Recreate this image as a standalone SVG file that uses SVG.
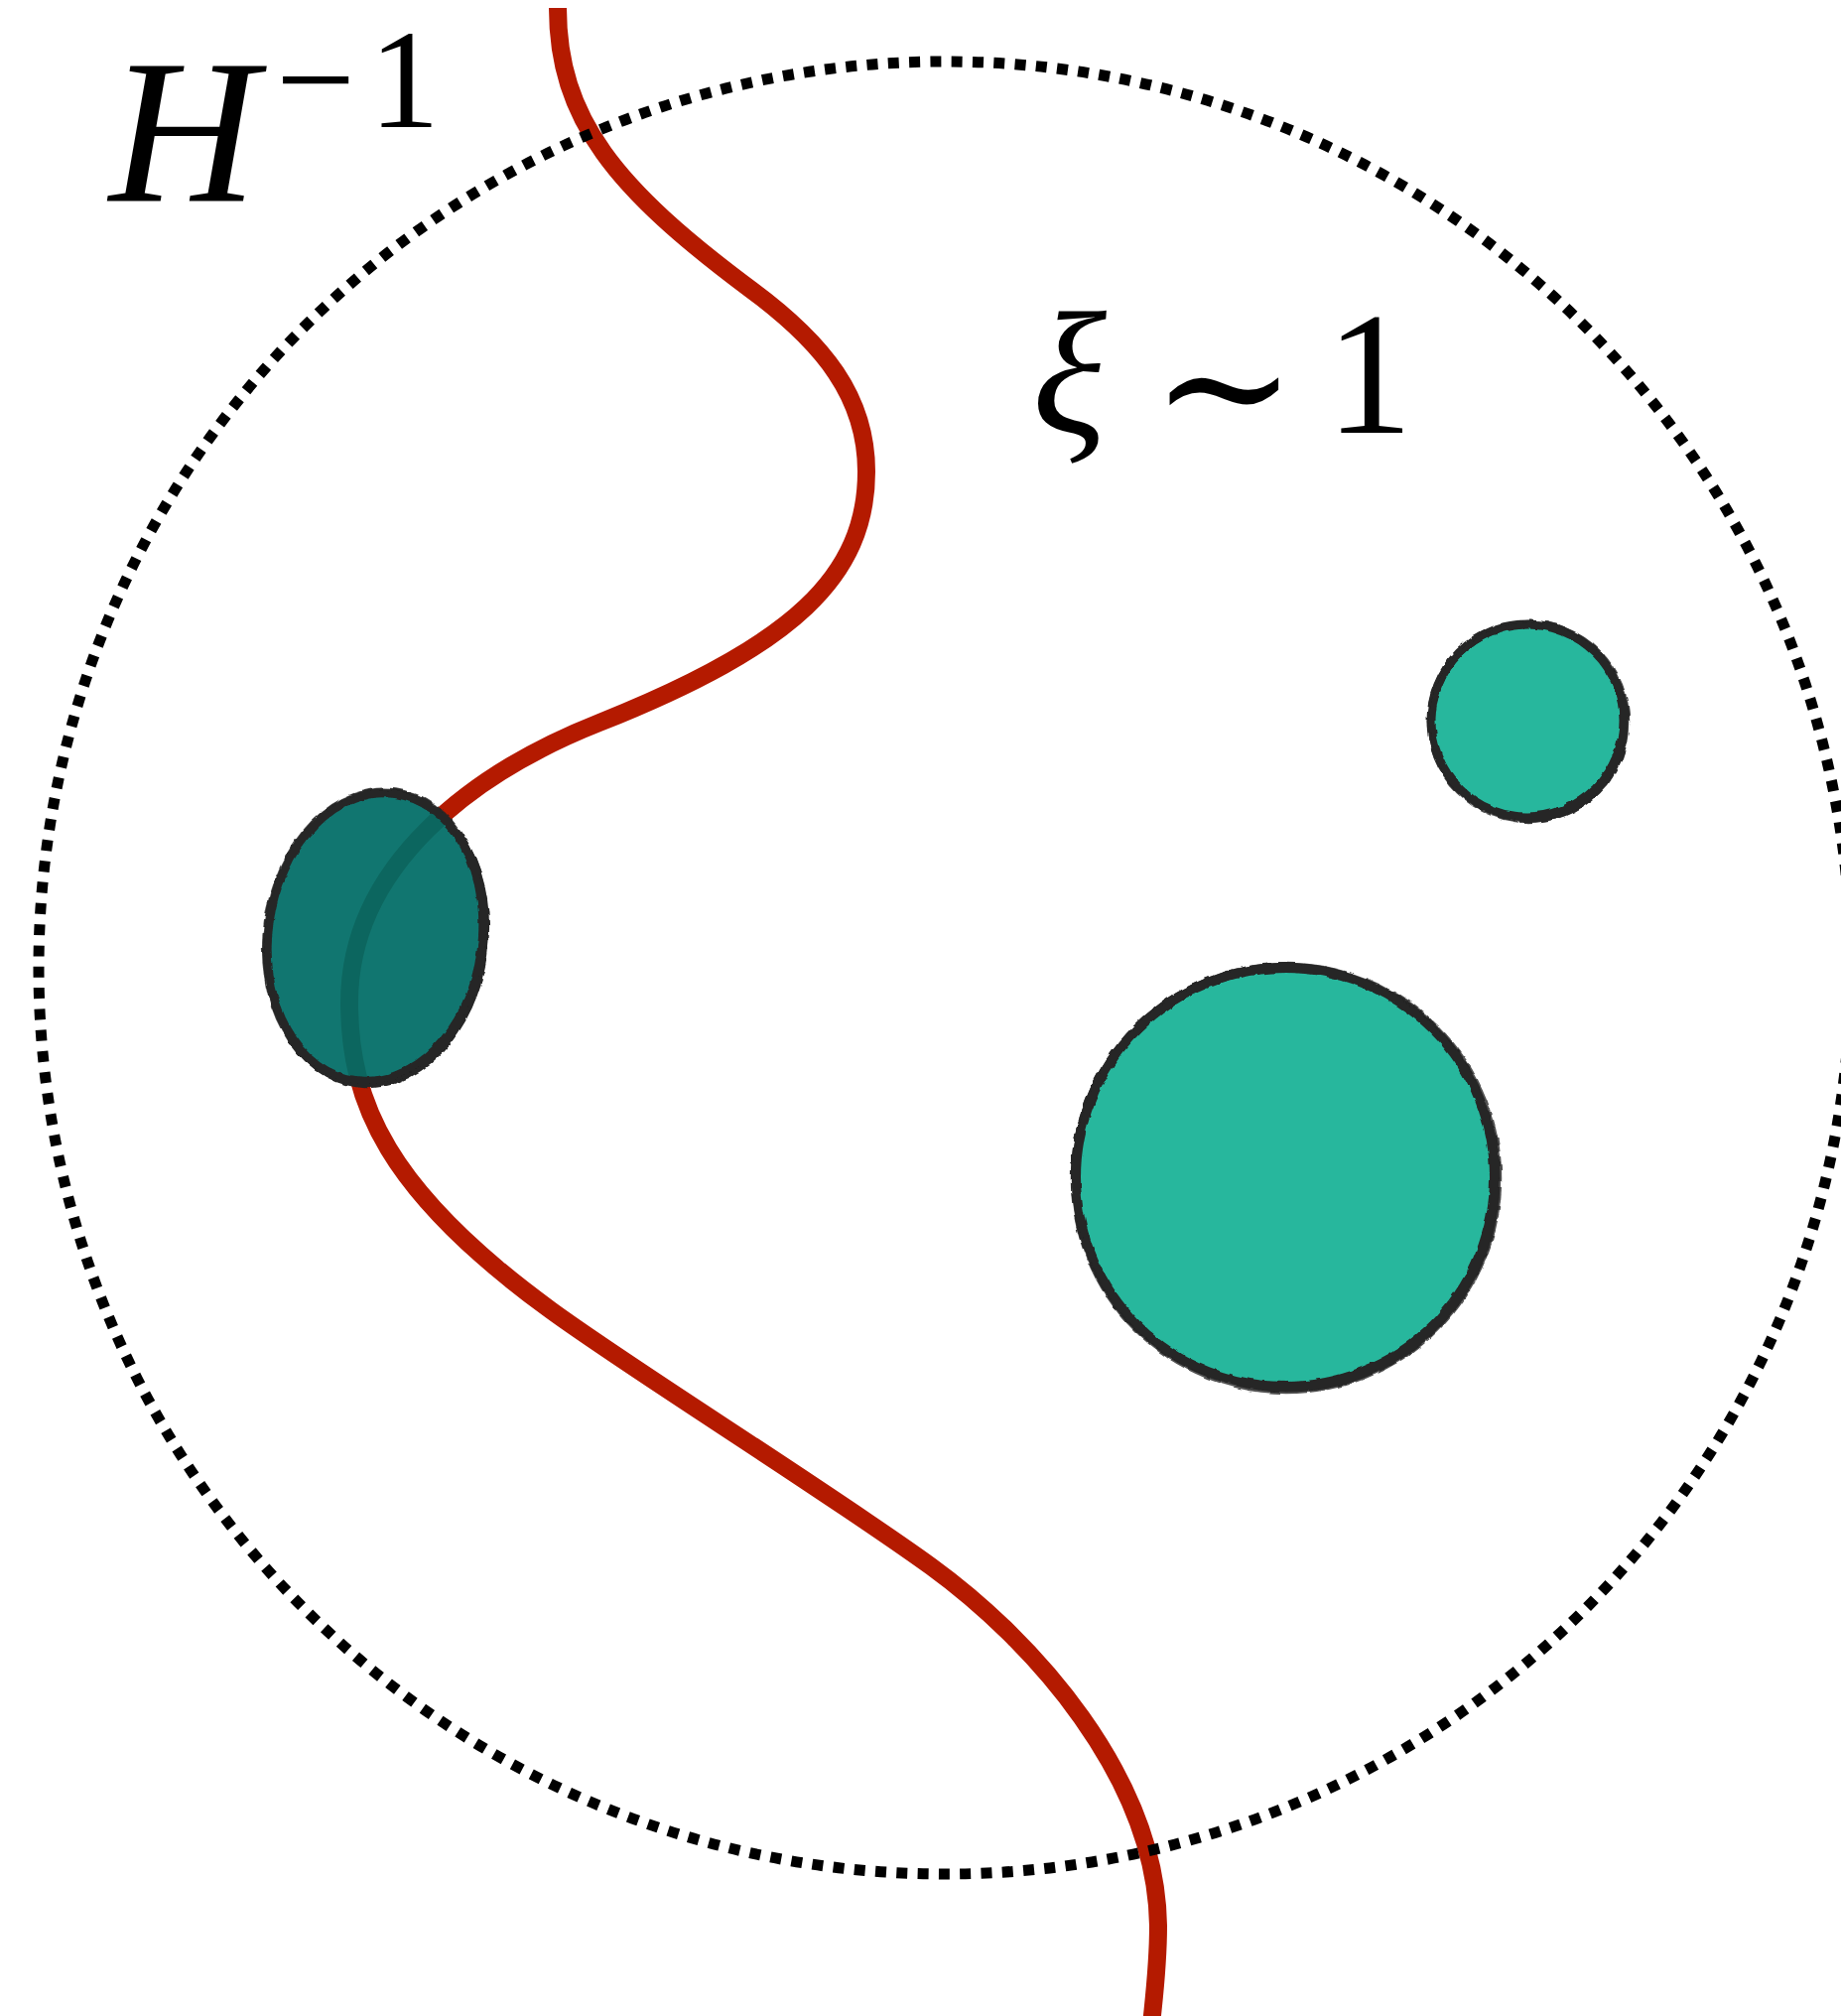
<svg xmlns="http://www.w3.org/2000/svg" width="1855" height="2031" viewBox="0 0 1855 2031">
  <style>
    .math { font-family: "Liberation Serif", "DejaVu Serif", serif; fill: #000; }
    .it { font-style: italic; }
    .ring { fill: none; stroke: #262626; }
    .ring2 { fill: none; stroke: #262626; stroke-width: 2.5; stroke-opacity: 0.8; }
    .ring3 { fill: none; stroke: #262626; stroke-width: 5; }
    .light { fill: #27b79d; }
    .dark { fill: #006c66; fill-opacity: 0.935; }
  </style>
  <defs>
    <filter id="brush" x="-10%" y="-10%" width="120%" height="120%">
      <feTurbulence type="fractalNoise" baseFrequency="0.09" numOctaves="2" seed="3" result="n"/>
      <feDisplacementMap in="SourceGraphic" in2="n" scale="4" xChannelSelector="R" yChannelSelector="G"/>
    </filter>
  </defs>
  <rect width="1855" height="2031" fill="#fff"/>

  <g id="worldline">
    <path d="M562,8 C562,120 620,190 757,292 C830,346 873,400 873,475 C873,580 800,650 604,728 C480,777 352,870 352,1010 C352,1110 390,1200 555,1320 C640,1382 830,1500 938,1578 C1040,1652 1165,1790 1167,1940 C1167,1980 1163,2010 1160,2040" fill="none" stroke="#b41a00" stroke-width="18"/>
  </g>

  <g id="horizon">
    <circle cx="952" cy="975" r="913" fill="none" stroke="#000" stroke-width="11" stroke-dasharray="11 10.33"/>
  </g>

  <g id="blob-dark">
    <ellipse cx="378" cy="944" rx="108" ry="146" transform="rotate(8 378 944)" class="dark"/>
    <g filter="url(#brush)">
      <ellipse cx="378" cy="944" rx="108" ry="146" transform="rotate(8 378 944)" class="ring" stroke="#141414" stroke-width="9"/>
      <ellipse cx="380" cy="946" rx="110" ry="148" transform="rotate(8 378 944)" class="ring3" stroke="#141414"/>
      <ellipse cx="378" cy="944" rx="112" ry="150" transform="rotate(8 378 944)" class="ring2" stroke="#141414"/>
    </g>
  </g>

  <g id="blob-small">
    <circle cx="1539" cy="726" r="97" class="light"/>
    <g filter="url(#brush)">
      <circle cx="1539" cy="726" r="97" class="ring" stroke-width="9"/>
      <circle cx="1541" cy="728" r="98" class="ring3"/>
      <circle cx="1540" cy="727" r="101" class="ring2"/>
    </g>
  </g>

  <g id="blob-large">
    <circle cx="1295" cy="1186" r="211" class="light"/>
    <g filter="url(#brush)">
      <circle cx="1295" cy="1186" r="211" class="ring" stroke-width="10"/>
      <circle cx="1297" cy="1188" r="212" class="ring3"/>
      <circle cx="1296" cy="1187" r="216" class="ring2"/>
    </g>
  </g>

  <g id="label-horizon">
    <text class="math it" x="110" y="203" font-size="207">H</text>
    <text class="math" y="128" font-size="142"><tspan x="278">−</tspan><tspan x="372">1</tspan></text>
  </g>

  <g id="label-xi">
    <text class="math it" x="1040" y="436" font-size="175">ξ</text>
    <text class="math" x="1160" y="449" font-size="175">∼</text>
    <text class="math" x="1336" y="436" font-size="175">1</text>
  </g>
</svg>
